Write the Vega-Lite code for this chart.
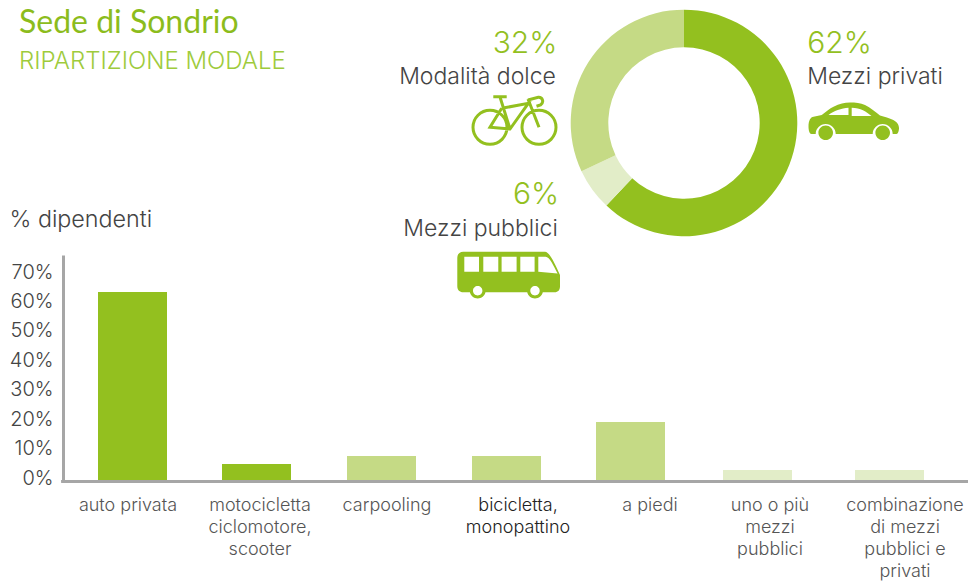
{
"$schema":"https://vega.github.io/schema/vega-lite/v6.json",
"width":905,"height":225,
"autosize":{"type":"none"},
"padding":{"left":63,"top":255,"right":0,"bottom":101},
"background":"white",
"config":{"view":{"stroke":null},"font":"Inter"},
"title":{"text":"Sede di Sondrio","subtitle":"RIPARTIZIONE MODALE","anchor":"start","frame":"group","dx":-44,"offset":0,"dy":65.5,"font":"Lato","fontSize":32,"fontWeight":400,"color":"#8cbc1c","subtitleFont":"Inter","subtitleFontSize":24,"subtitleFontWeight":300,"subtitleColor":"#9ecb3c","subtitlePadding":10},
"datasets":{
"barre":[
{"ordine":1,"categoria":"auto privata","valore":63.9,"gruppo":"Mezzi privati"},
{"ordine":2,"categoria":"motocicletta\nciclomotore,\nscooter","valore":5.4,"gruppo":"Mezzi privati"},
{"ordine":3,"categoria":"carpooling","valore":8.2,"gruppo":"Modalità dolce"},
{"ordine":4,"categoria":"bicicletta,\nmonopattino","valore":8.2,"gruppo":"Modalità dolce"},
{"ordine":5,"categoria":"a piedi","valore":19.7,"gruppo":"Modalità dolce"},
{"ordine":6,"categoria":"uno o più\nmezzi\npubblici","valore":3.4,"gruppo":"Mezzi pubblici"},
{"ordine":7,"categoria":"combinazione\ndi mezzi\npubblici e\nprivati","valore":3.4,"gruppo":"Mezzi pubblici"}],
"quote":[
{"ordine":1,"gruppo":"Mezzi privati","quota":62,"testo":"62%"},
{"ordine":2,"gruppo":"Mezzi pubblici","quota":6,"testo":"6%"},
{"ordine":3,"gruppo":"Modalità dolce","quota":32,"testo":"32%"}]
},
"resolve":{"scale":{"x":"independent","y":"independent","color":"independent","shape":"independent"},"axis":{"x":"independent","y":"independent"}},
"layer":[
{"data":{"name":"barre"},"mark":{"type":"rule","color":"#a6a6a6","strokeWidth":2.7,"yOffset":1.3,"strokeCap":"square"},
 "encoding":{"y":{"datum":0,"type":"quantitative","scale":{"domain":[0,76.5],"nice":false},"axis":null}}},
{"data":{"name":"barre"},"mark":{"type":"bar","width":69},
 "encoding":{
  "x":{"field":"ordine","type":"quantitative","scale":{"domain":[1,2,3,4,5,6,7],"range":[69.5,193.5,318.5,443.5,567.5,694.5,826.5],"padding":0},"axis":null},
  "y":{"field":"valore","type":"quantitative","scale":{"domain":[0,76.5],"nice":false},
   "axis":{"values":[0,10,20,30,40,50,60,70],"labelExpr":"datum.value+'%'","grid":false,"ticks":false,"domain":true,"domainWidth":3,"domainColor":"#a6a6a6","labelFontSize":20,"labelFontWeight":300,"labelColor":"#444444","labelPadding":10,"labelOffset":-2,"title":"% dipendenti","titleFontSize":23.3,"titleFontWeight":300,"titleColor":"#444444","titleAngle":0,"titleAlign":"left","titleBaseline":"alphabetic","titleX":-54,"titleY":-29}},
  "color":{"field":"gruppo","type":"nominal","scale":{"domain":["Mezzi privati","Modalità dolce","Mezzi pubblici"],"range":["#93c01f","#c5da85","#e2edc8"]},"legend":null}}},
{"data":{"name":"barre"},"mark":{"type":"text","baseline":"top","align":"center","lineBreak":"\n","lineHeight":22,"fontSize":18,"fontWeight":300,"dy":17},
 "encoding":{
  "x":{"field":"ordine","type":"quantitative","scale":{"domain":[1,2,3,4,5,6,7],"range":[65,197,324,455,587,707,842]},"axis":null},
  "y":{"datum":0,"type":"quantitative","scale":{"domain":[0,76.5],"nice":false},"axis":null},
  "text":{"field":"categoria"},
  "color":{"condition":{"test":"datum.ordine==4","value":"#222222"},"value":"#555555"}}},
{"data":{"name":"quote"},"mark":{"type":"arc","radius":113.3,"radius2":75.7},
 "encoding":{
  "theta":{"field":"quota","type":"quantitative","stack":true},
  "order":{"field":"ordine"},
  "x":{"field":"quota","type":"quantitative","scale":{"domain":[6,62],"range":[621,621]},"axis":null},
  "y":{"field":"quota","type":"quantitative","scale":{"domain":[6,62],"range":[-132,-132]},"axis":null},
  "color":{"field":"gruppo","type":"nominal","scale":{"domain":["Mezzi privati","Modalità dolce","Mezzi pubblici"],"range":["#93c01f","#c5da85","#e2edc8"]},"legend":null}}},
{"data":{"name":"quote"},"mark":{"type":"text","fontSize":30,"fontWeight":300,"color":"#93c01f","align":"center","baseline":"alphabetic"},
 "encoding":{
  "x":{"field":"quota","type":"quantitative","scale":{"domain":[6,32,62],"range":[473,462,776.5]},"axis":null},
  "y":{"field":"quota","type":"quantitative","scale":{"domain":[6,32,62],"range":[-51,-202,-202]},"axis":null},
  "text":{"field":"testo"}}},
{"data":{"name":"quote"},"mark":{"type":"text","fontSize":23,"fontWeight":300,"color":"#444444","align":"center","baseline":"alphabetic"},
 "encoding":{
  "x":{"field":"quota","type":"quantitative","scale":{"domain":[6,32,62],"range":[417.5,414.5,812]},"axis":null},
  "y":{"field":"quota","type":"quantitative","scale":{"domain":[6,32,62],"range":[-19,-171,-171]},"axis":null},
  "text":{"field":"gruppo"}}},
{"data":{"name":"quote"},"transform":[{"filter":"datum.quota!=32"}],"mark":{"type":"point","filled":true,"size":4,"opacity":1,"color":"#93c01f"},
 "encoding":{
  "x":{"field":"quota","type":"quantitative","scale":{"domain":[6,62],"range":[445.6,790.5]},"axis":null},
  "y":{"field":"quota","type":"quantitative","scale":{"domain":[6,62],"range":[20,-133.5]},"axis":null},
  "shape":{"field":"gruppo","type":"nominal","legend":null,"scale":{"domain":["Mezzi privati","Mezzi pubblici"],"range":[
"M-45 5C-45 -1 -43 -4.5 -40 -4.8L-31.8 -6.5C-27 -10 -24 -13 -20 -14.8C-14 -18 -9 -19 -3.5 -19C2 -19 7 -18.5 11.5 -16.5C17 -14 22 -9.5 26.5 -6C31 -4.5 36 -3.5 39.8 -1.5C43 0 45.5 3 45.5 6.5C45.5 9 44.5 12.5 43 12.5L39.2 12.5A10 10 0 0 0 19.2 12.5L-17.8 12.5A10 10 0 0 0 -37.8 12.5L-42 12.5C-44 12.5 -45 9 -45 5ZM-25 -6.5L-5 -6.5L-5 -13.8C-12 -13.5 -20 -10.5 -25 -6.5ZM-1.8 -13.8L-1.8 -5.5L18 -5.5C13 -10 7 -13.5 -1.8 -13.8ZM-35.1 11.2A7.3 7.3 0 1 1 -20.5 11.2A7.3 7.3 0 1 1 -35.1 11.2ZM21.9 11.2A7.3 7.3 0 1 1 36.5 11.2A7.3 7.3 0 1 1 21.9 11.2Z",
"M-45.3 -23.3L36.4 -23.3C41 -23 46 -12 51.4 0L51.4 11.3C51.4 15 49.5 17.3 46 17.3L34.2 17.3A8 8 0 0 1 18.6 17.3L-23.1 17.3A8 8 0 0 1 -38.7 17.3L-45.3 17.3C-49 17.3 -51.3 15 -51.3 11.3L-51.3 -17.3C-51.3 -21 -49 -23.3 -45.3 -23.3ZM-44.3 -18.3L-44.3 -3.3L-29.6 -3.3L-29.6 -18.3ZM-25.3 -18.3L-25.3 -3.3L-10.3 -3.3L-10.3 -18.3ZM-7 -18.3L-7 -3.3L8 -3.3L8 -18.3ZM11.7 -18.3L11.7 -3.3L26 -3.3L26 -18.3ZM29.7 -18.3L29.7 -3.3L49 -1.5C45 -9 41 -18.3 37 -18.3ZM-35.6 15.7A4.7 4.7 0 1 0 -26.2 15.7A4.7 4.7 0 1 0 -35.6 15.7ZM21.7 15.7A4.7 4.7 0 1 0 31.1 15.7A4.7 4.7 0 1 0 21.7 15.7Z"
]}}}},
{"data":{"name":"quote"},"transform":[{"filter":"datum.quota==32"}],"mark":{"type":"point","filled":false,"size":4,"opacity":1,"stroke":"#93c01f","strokeWidth":3},
 "encoding":{
  "x":{"field":"quota","type":"quantitative","scale":{"domain":[0,32],"range":[451.5,451.5]},"axis":null},
  "y":{"field":"quota","type":"quantitative","scale":{"domain":[0,32],"range":[-135,-135]},"axis":null},
  "shape":{"field":"gruppo","type":"nominal","legend":null,"scale":{"domain":["Modalità dolce"],"range":[
"M-41.5 7.3A17 17 0 1 1 -7.5 7.3A17 17 0 1 1 -41.5 7.3ZM7.5 7.3A17 17 0 1 1 41.5 7.3A17 17 0 1 1 7.5 7.3ZM-21.2 -23.3L-7.8 -23.3M-14.5 -23L-4.5 9M-12.8 -11.7L13.8 -16.7L-4.5 9L-24.5 7.3L-12.8 -11.7M13.5 -21L24.5 7.3M13.5 -20L23.8 -22.7C28 -23 30 -18 26 -15L22 -13.7"
]}}}}
]
}
